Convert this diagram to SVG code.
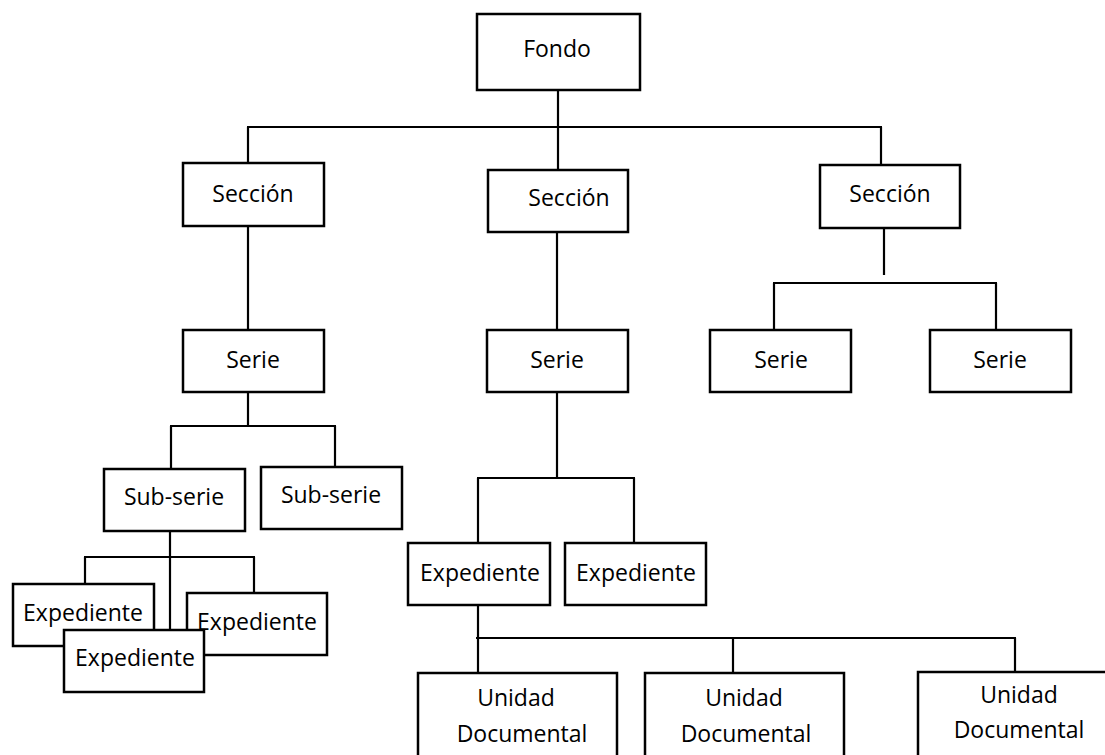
<svg xmlns="http://www.w3.org/2000/svg" width="1105" height="755" viewBox="0 0 1105 755">
<style>
.b{fill:#fff;stroke:#000;stroke-width:2.5}
.t{font-family:"Open Sans","Noto Sans",sans-serif;font-size:23px;fill:#000;text-anchor:middle}
.c line{stroke:#000;stroke-width:2.2}
</style>
<rect width="1105" height="755" fill="#fff"/>
<g class="c" id="connectors">
<line x1="558" y1="90" x2="558" y2="127"/>
<line x1="247" y1="127" x2="882" y2="127"/>
<line x1="248" y1="127" x2="248" y2="163"/>
<line x1="558" y1="127" x2="558" y2="170"/>
<line x1="881" y1="127" x2="881" y2="165"/>
<line x1="248" y1="226" x2="248" y2="330"/>
<line x1="557" y1="232" x2="557" y2="330"/>
<line x1="884" y1="228" x2="884" y2="275"/>
<line x1="773" y1="283" x2="997" y2="283"/>
<line x1="774" y1="283" x2="774" y2="330"/>
<line x1="996" y1="283" x2="996" y2="330"/>
<line x1="248" y1="392" x2="248" y2="426"/>
<line x1="170" y1="426" x2="336" y2="426"/>
<line x1="171" y1="426" x2="171" y2="469"/>
<line x1="335" y1="426" x2="335" y2="467"/>
<line x1="557" y1="392" x2="557" y2="478"/>
<line x1="477" y1="478" x2="635" y2="478"/>
<line x1="478" y1="478" x2="478" y2="543"/>
<line x1="634" y1="478" x2="634" y2="543"/>
<line x1="170" y1="531" x2="170" y2="630"/>
<line x1="84" y1="557" x2="255" y2="557"/>
<line x1="85" y1="557" x2="85" y2="584"/>
<line x1="254" y1="557" x2="254" y2="593"/>
<line x1="478" y1="605" x2="478" y2="673"/>
<line x1="476" y1="638" x2="1016" y2="638"/>
<line x1="733" y1="638" x2="733" y2="673"/>
<line x1="1015" y1="638" x2="1015" y2="672"/>
</g>
<g id="fondo"><rect class="b" x="477" y="14" width="163" height="76"/><text class="t" x="557" y="57">Fondo</text></g>
<g id="seccion1"><rect class="b" x="183" y="163" width="141" height="63"/><text class="t" x="253" y="202">Sección</text></g>
<g id="seccion2"><rect class="b" x="488" y="170" width="140" height="62"/><text class="t" x="569" y="206">Sección</text></g>
<g id="seccion3"><rect class="b" x="820" y="165" width="140" height="63"/><text class="t" x="890" y="202">Sección</text></g>
<g id="serie1"><rect class="b" x="183" y="330" width="141" height="62"/><text class="t" x="253" y="368">Serie</text></g>
<g id="serie2"><rect class="b" x="487" y="330" width="141" height="62"/><text class="t" x="557" y="368">Serie</text></g>
<g id="serie3a"><rect class="b" x="710" y="330" width="141" height="62"/><text class="t" x="781" y="368">Serie</text></g>
<g id="serie3b"><rect class="b" x="930" y="330" width="141" height="62"/><text class="t" x="1000" y="368">Serie</text></g>
<g id="subserie1"><rect class="b" x="104" y="469" width="141" height="62"/><text class="t" x="174" y="505">Sub-serie</text></g>
<g id="subserie2"><rect class="b" x="261" y="467" width="141" height="62"/><text class="t" x="331" y="503">Sub-serie</text></g>
<g id="expediente-a"><rect class="b" x="13" y="584" width="141" height="62"/><text class="t" x="83" y="621">Expediente</text></g>
<g id="expediente-c"><rect class="b" x="187" y="593" width="140" height="62"/></g>
<g id="expediente-b"><rect class="b" x="64" y="630" width="140" height="62"/><text class="t" x="135" y="666">Expediente</text></g>
<g id="expediente-c-label"><text class="t" x="257" y="630">Expediente</text></g>
<g id="expediente-d"><rect class="b" x="408" y="543" width="142" height="62"/><text class="t" x="480" y="581">Expediente</text></g>
<g id="expediente-e"><rect class="b" x="565" y="543" width="141" height="62"/><text class="t" x="636" y="581">Expediente</text></g>
<g id="unidad1"><rect class="b" x="418" y="673" width="199" height="100"/><text class="t" x="516" y="706">Unidad</text><text class="t" x="522" y="742">Documental</text></g>
<g id="unidad2"><rect class="b" x="645" y="673" width="199" height="100"/><text class="t" x="744" y="706">Unidad</text><text class="t" x="746" y="742">Documental</text></g>
<g id="unidad3"><rect class="b" x="918" y="672" width="200" height="100"/><text class="t" x="1019" y="703">Unidad</text><text class="t" x="1019" y="738">Documental</text></g>
</svg>
